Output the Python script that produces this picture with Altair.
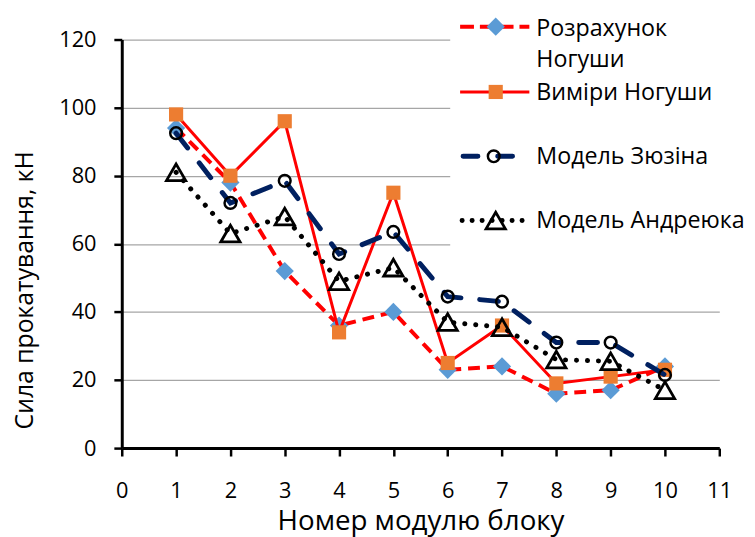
import altair as alt
import pandas as pd

# ---- data ----
module_no = [1, 2, 3, 4, 5, 6, 7, 8, 9, 10]
calc_nogushi = [94, 78, 52, 36, 40, 23, 24, 16, 17, 24]
meas_nogushi = [98, 80, 96, 34, 75, 25, 36, 19, 21, 23]
model_zyuzin = [92.5, 72, 78.5, 57, 63.5, 44.5, 43, 31, 31, 21.5]
model_andreyuk = [81, 63, 68, 49, 53, 37, 35.5, 26, 25.5, 17]
series_names = ["Розрахунок Ногуши", "Виміри Ногуши", "Модель Зюзіна", "Модель Андреюка"]
x_ticks = list(range(0, 12))
y_ticks = list(range(0, 121, 20))
x_title = "Номер модулю блоку"
y_title = "Сила прокатування, кН"

rows = []
for name, vals in zip(series_names, [calc_nogushi, meas_nogushi, model_zyuzin, model_andreyuk]):
    for xv, yv in zip(module_no, vals):
        rows.append({"series": name, "x": xv, "y": yv})
df = pd.DataFrame(rows)

FONT = "Open Sans"
RED = "#ff0000"
NAVY = "#002060"
DIAMOND = "#5b9bd5"
ORANGE = "#ed7d31"

x_enc = alt.X("x:Q", scale=alt.Scale(domain=[0, 11], nice=False, zero=False),
              axis=alt.Axis(values=x_ticks, format="d", labelOverlap=False, labelFlush=False,
                            title=x_title, grid=False, labelPadding=25,
                            titleY=82, titleBaseline="alphabetic"))
y_enc = alt.Y("y:Q", scale=alt.Scale(domain=[0, 120], nice=False),
              axis=alt.Axis(values=y_ticks, format="d", labelOverlap=False, labelFlush=False,
                            title=y_title, grid=True, labelPadding=18, titleFontSize=25,
                            titleX=-90, titleY=253, titleBaseline="alphabetic", titleAngle=270))

base = alt.Chart(df)


def sel(name):
    return base.transform_filter(alt.datum.series == name)


s1_line = sel(series_names[0]).mark_line(color=RED, strokeWidth=4, strokeDash=[12, 7]).encode(x=x_enc, y=y_enc)
s1_pt = sel(series_names[0]).mark_point(shape="diamond", filled=True, fill=DIAMOND, opacity=1,
                                        strokeWidth=0, size=340).encode(x="x:Q", y="y:Q")
s2_line = sel(series_names[1]).mark_line(color=RED, strokeWidth=3).encode(x="x:Q", y="y:Q")
s2_pt = sel(series_names[1]).mark_point(shape="square", filled=True, fill=ORANGE, opacity=1,
                                        strokeWidth=0, size=205).encode(x="x:Q", y="y:Q")
s3_line = sel(series_names[2]).mark_line(color=NAVY, strokeWidth=5, strokeDash=[19, 19],
                                         strokeCap="round").encode(x="x:Q", y="y:Q")
s3_pt = sel(series_names[2]).mark_point(shape="circle", filled=False, stroke="black", opacity=1,
                                        strokeWidth=2.5, size=140).encode(x="x:Q", y="y:Q")
s4_line = sel(series_names[3]).mark_line(color="black", strokeWidth=5, strokeDash=[0.1, 11],
                                         strokeCap="round").encode(x="x:Q", y="y:Q")
s4_pt = sel(series_names[3]).mark_point(shape="triangle-up", filled=False, stroke="black", opacity=1,
                                        strokeWidth=2.8, size=380).encode(x="x:Q", y="y:Q")

# ---- legend drawn by hand (overlaid on plot like in the reference) ----
one = alt.Chart(pd.DataFrame({"k": [0]}))
LX1, LX2, MX, TX = 342, 412, 378, 419
leg_bg = one.mark_rect(fill="white").encode(x=alt.value(332), x2=alt.value(640),
                                             y=alt.value(-37), y2=alt.value(228))


def leg_text(txt, y):
    return one.mark_text(align="left", baseline="alphabetic", font=FONT, fontSize=23.5,
                         color="black").encode(x=alt.value(TX), y=alt.value(y), text=alt.value(txt))


legend_layers = [
    leg_bg,
    one.mark_rule(color=RED, strokeWidth=4, strokeDash=[14, 6]).encode(
        x=alt.value(LX1), x2=alt.value(LX2), y=alt.value(-13)),
    one.mark_point(shape="diamond", filled=True, fill=DIAMOND, opacity=1, strokeWidth=0, size=340).encode(
        x=alt.value(MX), y=alt.value(-13)),
    leg_text("Розрахунок", -4),
    leg_text("Ногуши", 28),
    one.mark_rule(color=RED, strokeWidth=3).encode(x=alt.value(LX1), x2=alt.value(LX2), y=alt.value(53)),
    one.mark_point(shape="square", filled=True, fill=ORANGE, opacity=1, strokeWidth=0, size=205).encode(
        x=alt.value(MX), y=alt.value(53)),
    leg_text(series_names[1], 61),
    one.mark_rule(color=NAVY, strokeWidth=5, strokeDash=[15, 20], strokeCap="round").encode(
        x=alt.value(LX1 + 3), x2=alt.value(LX2 - 8), y=alt.value(118)),
    one.mark_point(shape="circle", filled=False, stroke="black", opacity=1, strokeWidth=2.5, size=140).encode(
        x=alt.value(MX - 2), y=alt.value(118)),
    leg_text(series_names[2], 126),
    one.mark_rule(color="black", strokeWidth=5, strokeDash=[0.1, 10], strokeCap="round").encode(
        x=alt.value(LX1 + 2), x2=alt.value(LX2 - 4), y=alt.value(183)),
    one.mark_point(shape="triangle-up", filled=False, stroke="black", opacity=1, strokeWidth=2.8, size=380).encode(
        x=alt.value(MX), y=alt.value(183)),
    leg_text(series_names[3], 191),
]

chart = alt.layer(
    s1_line, s1_pt, s2_line, s2_pt, s3_line, s3_pt, s4_line, s4_pt, *legend_layers
).properties(
    width=604, height=413,
    autosize=alt.AutoSizeParams(type="none"),
    padding={"left": 115, "top": 29, "right": 28, "bottom": 88},
).configure_view(stroke=None).configure_axis(
    domainColor="black", domainWidth=3, tickColor="black", tickWidth=2.5, tickSize=8,
    labelFont=FONT, labelFontSize=22, labelColor="black",
    titleFont=FONT, titleFontSize=28, titleFontWeight="normal", titleColor="black",
    gridColor="#a6a6a6", gridWidth=1.3, zindex=0,
)

chart.save("out.html", embed_options={"renderer": "svg", "actions": False})
